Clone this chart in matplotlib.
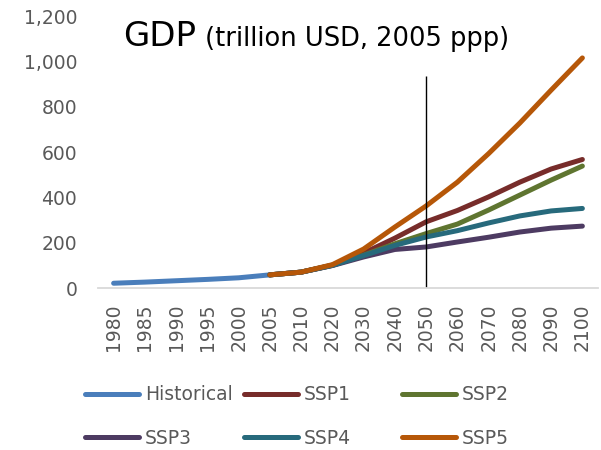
import numpy as np
import matplotlib
matplotlib.use("Agg")
import matplotlib.pyplot as plt
from matplotlib.lines import Line2D

# categories (Excel category axis, equally spaced)
years = ['1980', '1985', '1990', '1995', '2000', '2005', '2010', '2020',
         '2030', '2040', '2050', '2060', '2070', '2080', '2090', '2100']

nan = np.nan
historical = [21, 26, 32, 38, 45, 58] + [nan] * 10
ssp1 = [nan] * 5 + [58, 70, 101, 154, 220, 292, 342, 402, 467, 525, 567]
ssp2 = [nan] * 5 + [58, 70, 100, 145, 195, 240, 282, 344, 410, 476, 538]
ssp3 = [nan] * 5 + [58, 70, 99, 137, 170, 181, 203, 224, 247, 264, 273]
ssp4 = [nan] * 5 + [58, 70, 100, 143, 188, 225, 253, 287, 318, 340, 351]
ssp5 = [nan] * 5 + [58, 70, 103, 172, 269, 362, 467, 593, 728, 873, 1015]

series = [('Historical', historical, '#4A7EBB'),
          ('SSP1', ssp1, '#772C2A'),
          ('SSP2', ssp2, '#5F7530'),
          ('SSP3', ssp3, '#4D3B62'),
          ('SSP4', ssp4, '#276A7C'),
          ('SSP5', ssp5, '#B65708')]

marker_year = '2050'
marker_top = 935

grey = '#595959'
fs = 13.5

fig = plt.figure(figsize=(6.01, 4.5), dpi=100)
ax = fig.add_axes([98 / 601, 1 - 288 / 450, 500 / 601, (288 - 16) / 450])

x = np.arange(len(years))
handles = {}
for name, vals, col in series:
    h, = ax.plot(x, vals, color=col, lw=3.6, solid_capstyle='round',
                 solid_joinstyle='round')
    handles[name] = h

ax.vlines(years.index(marker_year), 0, marker_top, color='black', lw=1.0)

ax.set_xlim(-0.5, len(years) - 0.5)
ax.set_ylim(0, 1200)
ax.set_yticks(range(0, 1201, 200))
ax.yaxis.set_major_formatter(matplotlib.ticker.FuncFormatter(lambda v, p: f'{int(v):,}'))
ax.set_xticks(x)
ax.set_xticklabels(years, rotation=90)
ax.tick_params(axis='y', length=0, pad=15, labelsize=fs, labelcolor=grey)
ax.tick_params(axis='x', length=0, pad=11, labelsize=fs, labelcolor=grey)

for s in ['top', 'right', 'left']:
    ax.spines[s].set_visible(False)
ax.spines['bottom'].set_color('#D9D9D9')
ax.spines['bottom'].set_linewidth(1.3)

# title in two sizes
fig.text(123 / 601, 1 - 46 / 450, 'GDP', fontsize=24.5, color='black', va='baseline')
fig.text(205 / 601, 1 - 46 / 450, '(trillion USD, 2005 ppp)', fontsize=18.5,
         color='black', va='baseline')

# legend: three columns placed like Excel
columns = [(['Historical', 'SSP3'], 85), (['SSP1', 'SSP4'], 244), (['SSP2', 'SSP5'], 402)]
for names, xpx in columns:
    leg = fig.legend([handles[n] for n in names], names, loc='center left',
                     bbox_to_anchor=(xpx / 601, 1 - 416.5 / 450), frameon=False,
                     fontsize=fs, handlelength=2.9, handletextpad=0.3,
                     labelspacing=1.3, borderpad=0, borderaxespad=0)
    for t in leg.get_texts():
        t.set_color(grey)

fig.savefig('out.png', dpi=100)
